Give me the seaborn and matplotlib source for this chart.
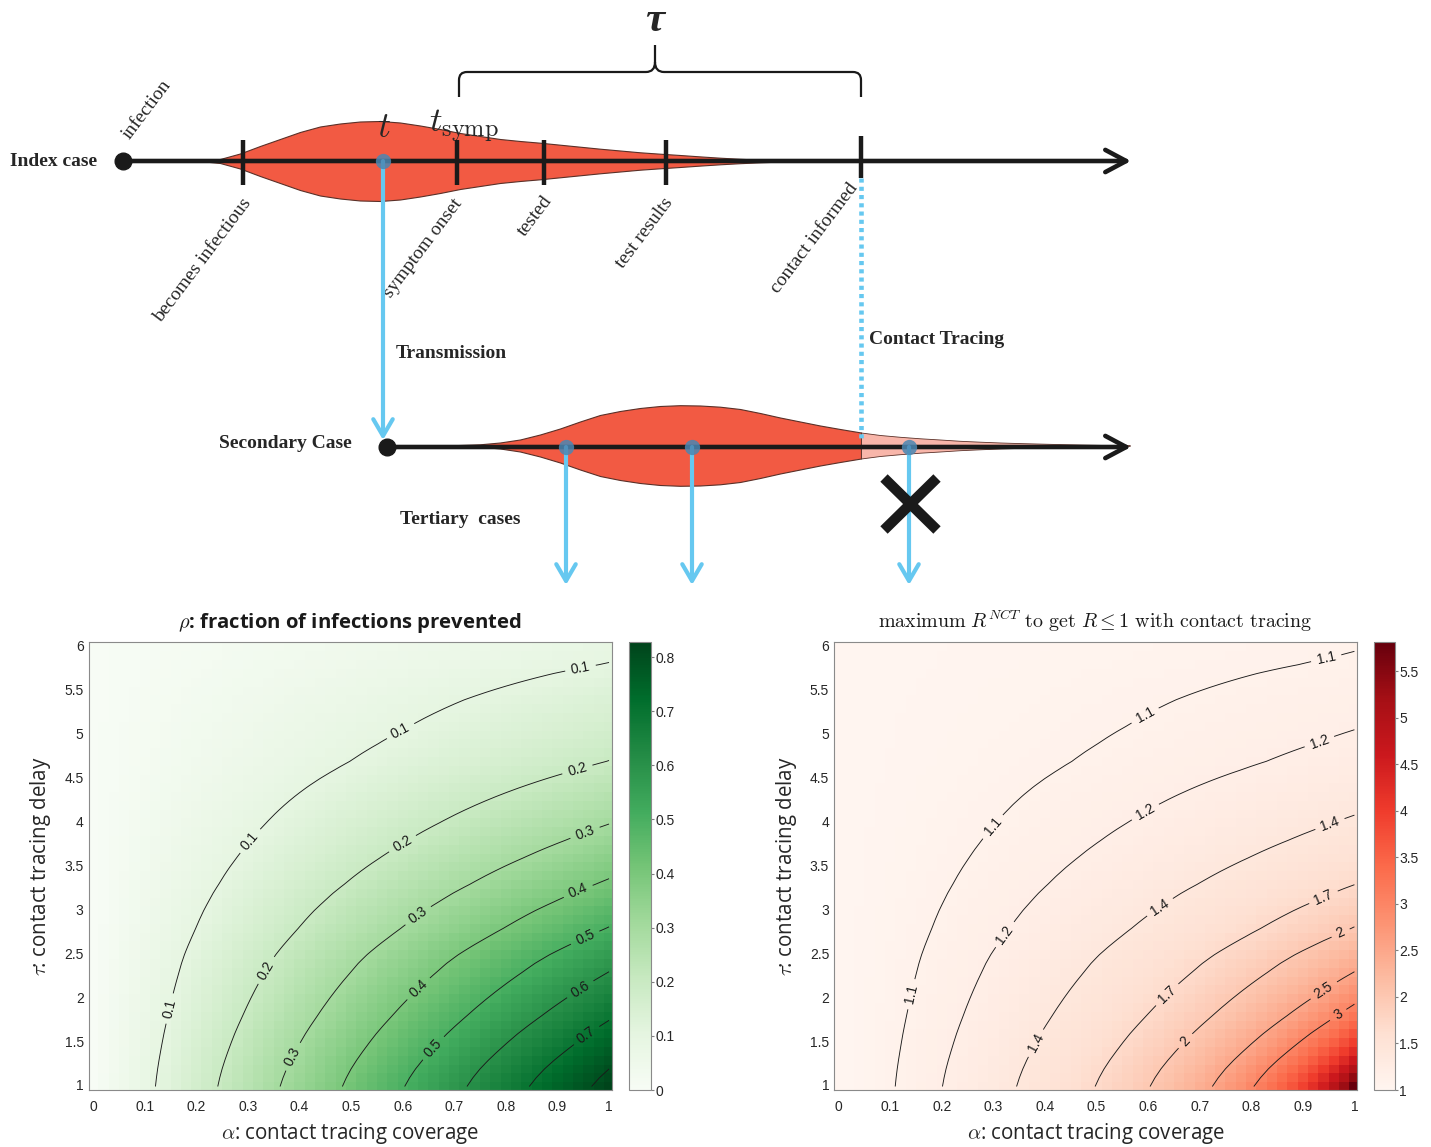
import numpy as np
import matplotlib
matplotlib.use("Agg")
import matplotlib.pyplot as plt
from matplotlib.path import Path
from matplotlib.patches import PathPatch
import seaborn as sns

# ------------------------------------------------------------------ data
# heat-map grid
alpha = np.linspace(0, 1, 51)          # contact tracing coverage
tau = np.linspace(1, 6, 51)            # contact tracing delay
# fraction of infections prevented at full coverage (alpha = 1), read per tau
g_tau = np.array([
    0.828, 0.815, 0.800, 0.783, 0.765, 0.747, 0.729, 0.710, 0.691, 0.673,
    0.655, 0.637, 0.619, 0.601, 0.584, 0.565, 0.544, 0.523, 0.503, 0.485,
    0.467, 0.448, 0.430, 0.411, 0.394, 0.377, 0.360, 0.344, 0.328, 0.313,
    0.298, 0.284, 0.270, 0.256, 0.242, 0.228, 0.214, 0.201, 0.191, 0.181,
    0.172, 0.163, 0.155, 0.147, 0.139, 0.130, 0.121, 0.112, 0.102, 0.094,
    0.088])

rho_levels = [0.1, 0.2, 0.3, 0.4, 0.5, 0.6, 0.7, 0.8]
R_levels = [1.1, 1.2, 1.4, 1.7, 2, 2.5, 3]
rho_cbar_ticks = [0, 0.1, 0.2, 0.3, 0.4, 0.5, 0.6, 0.7, 0.8]
R_cbar_ticks = [1, 1.5, 2, 2.5, 3, 3.5, 4, 4.5, 5, 5.5]
x_ticks = [0, 0.1, 0.2, 0.3, 0.4, 0.5, 0.6, 0.7, 0.8, 0.9, 1]
y_ticks = [1, 1.5, 2, 2.5, 3, 3.5, 4, 4.5, 5, 5.5, 6]

rho_label_alpha = [0.946, 0.60, 0.303, 0.146, 0.939, 0.60, 0.333, 0.954, 0.628, 0.387,
                   0.939, 0.628, 0.954, 0.655, 0.946, 0.954]
rho_label_tau = [5.72, 5.0, 3.80, 1.89, 4.60, 3.76, 2.33, 3.88, 2.96, 1.34,
                 3.24, 2.13, 2.69, 1.46, 2.09, 1.60]
R_label_alpha = [0.945, 0.599, 0.302, 0.141, 0.933, 0.595, 0.322, 0.953, 0.623, 0.380,
                 0.941, 0.636, 0.973, 0.672, 0.941, 0.969]
R_label_tau = [5.88, 5.17, 3.94, 2.05, 4.91, 4.12, 2.73, 3.98, 3.04, 1.50,
               3.14, 2.05, 2.75, 1.52, 2.09, 1.81]

# schematic (timeline units = pixels of the drawing)
index_x = [200, 220, 240, 260, 280, 300, 320, 340, 360, 380, 400, 420, 440, 460, 480,
           500, 520, 540, 560, 580, 600, 620, 640, 660, 680, 700, 720, 740, 760, 780, 800]
index_w = [0, 2, 7.5, 15, 22, 29, 34.5, 37.5, 39.5, 40, 38.5, 35.5, 32, 28, 25,
           22, 20, 18.3, 16.3, 14.3, 12.3, 10.5, 8.7, 7.3, 6, 4.6, 3.3, 2.2, 1.3, 0.6, 0]
sec_x = [440, 460, 480, 500, 520, 540, 560, 580, 600, 620, 640, 660, 680, 700, 720,
         740, 760, 780, 800, 820, 840, 861]
sec_w = [0, 0.5, 1.2, 3, 6, 11, 17, 24, 30.5, 34.5, 37.5, 39.5, 40.3, 40, 38.8,
         36.5, 32.5, 28, 24, 20, 16.5, 13]
pink_x = [861, 880, 900, 920, 940, 960, 980, 1000, 1020, 1040, 1060, 1080, 1100, 1120, 1130]
pink_w = [13, 10.5, 8.7, 7.2, 6, 4.7, 3.8, 3, 2.4, 1.9, 1.4, 1, 0.6, 0.2, 0]

event_labels = ["becomes infectious", "symptom onset", "tested", "test results", "contact informed"]
event_x = [243, 457, 544, 666, 861]
transmission_x = 383
tertiary_x = [566, 692, 909]

# ------------------------------------------------------------------ style
sns.set_theme(style="white", context="notebook")
plt.rcParams["font.family"] = ["Liberation Sans", "DejaVu Sans"]
plt.rcParams["mathtext.fontset"] = "cm"

W, H = 1431, 1147
fig = plt.figure(figsize=(W / 100, H / 100), dpi=100)


def px_axes(l, t, r, b):
    return fig.add_axes([l / W, 1 - b / H, (r - l) / W, (b - t) / H])


RED = "#F25A43"
PINK = "#F8B6AA"
BLUE = "#66C8F0"
DOTBLUE = "#4B86B2"
EDGE = "#5a3028"
SERIF = ["Liberation Serif", "DejaVu Serif"]
SANS2 = ["Open Sans", "DejaVu Sans"]

# ------------------------------------------------------------------ schematic
ax0 = px_axes(0, 0, W, 600)
ax0.set_xlim(0, W)
ax0.set_ylim(600, 0)
ax0.axis("off")

yi, ys = 161, 447
ax0.fill_between(index_x, yi - np.array(index_w), yi + np.array(index_w),
                 color=RED, ec=EDGE, lw=0.8, zorder=1)
ax0.fill_between(sec_x, ys - 1.5 - np.array(sec_w), ys - 1.5 + np.array(sec_w),
                 color=RED, ec=EDGE, lw=0.8, zorder=1)
ax0.fill_between(pink_x, ys - 1.5 - np.array(pink_w), ys - 1.5 + np.array(pink_w),
                 color=PINK, ec=EDGE, lw=0.6, zorder=1)

arrow_black = dict(arrowstyle="->,head_length=0.75,head_width=0.4", color="k", lw=3.3,
                   mutation_scale=20, shrinkA=0, shrinkB=0)
ax0.annotate("", xy=(1131, yi), xytext=(123, yi), arrowprops=arrow_black, zorder=3)
ax0.annotate("", xy=(1131, ys), xytext=(387, ys), arrowprops=arrow_black, zorder=3)
ax0.plot([123], [yi], "o", color="k", ms=12, zorder=4)
ax0.plot([387], [ys], "o", color="k", ms=12, zorder=4)

for x in event_x[:-1]:
    ax0.plot([x, x], [140, 185], color="k", lw=3.2, zorder=4, solid_capstyle="butt")
ax0.plot([event_x[-1]] * 2, [136, 178], color="k", lw=3.2, zorder=4, solid_capstyle="butt")

# event labels
label_anchor = [(248, 200), (459, 201), (549, 198), (670, 200), (855, 185)]
for lab, (xa, ya) in zip(event_labels, label_anchor):
    ax0.text(xa, ya, lab, rotation=53, rotation_mode="anchor", ha="right", va="center",
             family=SERIF, fontsize=14)
ax0.text(126, 137, "infection", rotation=53, rotation_mode="anchor", ha="left", va="center",
         family=SERIF, fontsize=14)

# bold labels
bold = dict(family=SERIF, fontweight="bold", fontsize=14)
ax0.text(10, yi, "Index case", ha="left", va="center", **bold)
ax0.text(219, 443, "Secondary Case", ha="left", va="center", **bold)
ax0.text(396, 353, "Transmission", ha="left", va="center", **bold)
ax0.text(869, 340, "Contact Tracing", ha="left", va="center", **bold)
ax0.text(400, 519, "Tertiary  cases", ha="left", va="center", **bold)

# time symbols
ax0.text(384, 137, r"$t$", fontsize=26, ha="center", va="baseline")
ax0.text(429, 132, r"$t_{\mathrm{symp}}$", fontsize=25, ha="left", va="baseline")
ax0.text(655, 31, "τ", fontsize=31, family=SERIF, style="italic", fontweight="bold",
         ha="center", va="baseline")

# brace
verts = [(459, 97), (459, 80), (459, 72), (467, 72), (646, 72), (655, 72), (655, 62),
         (655, 45),
         (655, 62), (655, 72), (664, 72), (853, 72), (861, 72), (861, 80), (861, 97)]
codes = [Path.MOVETO, Path.LINETO, Path.CURVE3, Path.CURVE3, Path.LINETO, Path.CURVE3,
         Path.CURVE3, Path.LINETO,
         Path.MOVETO, Path.CURVE3, Path.CURVE3, Path.LINETO, Path.CURVE3, Path.CURVE3,
         Path.LINETO]
ax0.add_patch(PathPatch(Path(verts, codes), fc="none", ec="k", lw=1.6))

# transmission / contact tracing
arrow_blue = dict(arrowstyle="->,head_length=0.6,head_width=0.35", color=BLUE, lw=3,
                  mutation_scale=20, shrinkA=0, shrinkB=0)
ax0.annotate("", xy=(transmission_x, 440), xytext=(transmission_x, yi),
             arrowprops=arrow_blue, zorder=5)
for x in tertiary_x:
    ax0.annotate("", xy=(x, 585), xytext=(x, ys), arrowprops=arrow_blue, zorder=5)
ax0.plot([861, 861], [178, 442], color=BLUE, lw=3.3, linestyle=(0, (0.9, 0.9)), zorder=5)
ax0.plot([transmission_x] + tertiary_x, [yi] + [ys] * 3, "o", color=DOTBLUE, alpha=0.85,
         ms=11, mec="none", zorder=6)

# cross
ax0.plot([884, 937], [478, 530], color="k", lw=7.5, solid_capstyle="butt", zorder=7)
ax0.plot([884, 937], [530, 478], color="k", lw=7.5, solid_capstyle="butt", zorder=7)

# ------------------------------------------------------------------ heatmaps
rho = np.outer(g_tau, alpha)           # rows: tau, cols: alpha
R_max = 1.0 / (1.0 - rho)

da, dt = alpha[1] - alpha[0], tau[1] - tau[0]


def ix(a):
    return (np.asarray(a) - alpha[0]) / da + 0.5


def iy(t):
    return (np.asarray(t) - tau[0]) / dt + 0.5


def fmt_num(v):
    return f"{v:g}"


def panel(ax, cax, Z, cmap, vmin, vmax, levels, lab_a, lab_t, cticks, title, title_kw):
    sns.heatmap(Z, ax=ax, cbar_ax=cax, cmap=cmap, vmin=vmin, vmax=vmax,
                cbar_kws={"ticks": cticks}, linewidths=0)
    ax.set_xlim(ix(-0.009), ix(1.005))
    ax.set_ylim(iy(0.96), iy(6.058))
    cs = ax.contour(ix(alpha), iy(tau), Z, levels=levels, colors="k", linewidths=0.65)
    ax.clabel(cs, fmt=fmt_num, fontsize=10, inline=True, inline_spacing=6,
              manual=list(zip(ix(lab_a), iy(lab_t))))
    ax.set_xticks(ix(x_ticks))
    ax.set_xticklabels([fmt_num(v) for v in x_ticks], rotation=0)
    ax.set_yticks(iy(y_ticks))
    ax.set_yticklabels([fmt_num(v) for v in y_ticks], rotation=0)
    ax.tick_params(direction="in", length=5, width=0.8, color="#808080", top=True, right=True,
                   bottom=True, left=True, labelsize=10, labelcolor="#262626")
    ax.tick_params(axis="x", pad=7)
    ax.tick_params(axis="y", pad=3.5)
    for sp in ax.spines.values():
        sp.set_visible(True)
        sp.set_color("#8a8a8a")
        sp.set_linewidth(0.8)
    ax.set_xlabel(r"$\alpha$: contact tracing coverage", family=SANS2,
                  fontsize=14.8, labelpad=5, color="#262626")
    ax.set_ylabel(r"$\tau$: contact tracing delay", family=SANS2,
                  fontsize=14.8, labelpad=8, color="#262626")
    ax.set_title(title, pad=10, color="k", **title_kw)
    cb = ax.collections[0].colorbar
    cb.outline.set_edgecolor("#8a8a8a")
    cb.outline.set_linewidth(0.8)
    cb.set_ticks(cticks)
    cb.set_ticklabels([fmt_num(v) for v in cticks])
    cax.tick_params(direction="out", length=2, width=0.8, color="#808080", labelsize=10,
                    pad=1.5, labelcolor="#262626", right=True)


axL = px_axes(88.5, 642, 611.6, 1090)
caxL = px_axes(629, 642, 651, 1090)
panel(axL, caxL, rho, "Greens", 0, float(rho.max()), rho_levels, rho_label_alpha,
      rho_label_tau, rho_cbar_ticks, r"$\rho$: fraction of infections prevented",
      dict(family=SANS2, fontweight="bold", fontsize=14.6))

axR = px_axes(834, 642, 1357, 1090)
caxR = px_axes(1373.5, 642, 1394.5, 1090)
panel(axR, caxR, R_max, "Reds", 1, float(R_max.max()), R_levels, R_label_alpha,
      R_label_tau, R_cbar_ticks,
      r"$\mathrm{maximum}\ R^{NCT}\ \mathrm{to\ get}\ R \leq 1\ \mathrm{with\ contact\ tracing}$",
      dict(fontsize=14.4))

fig.savefig("out.png", dpi=100)
